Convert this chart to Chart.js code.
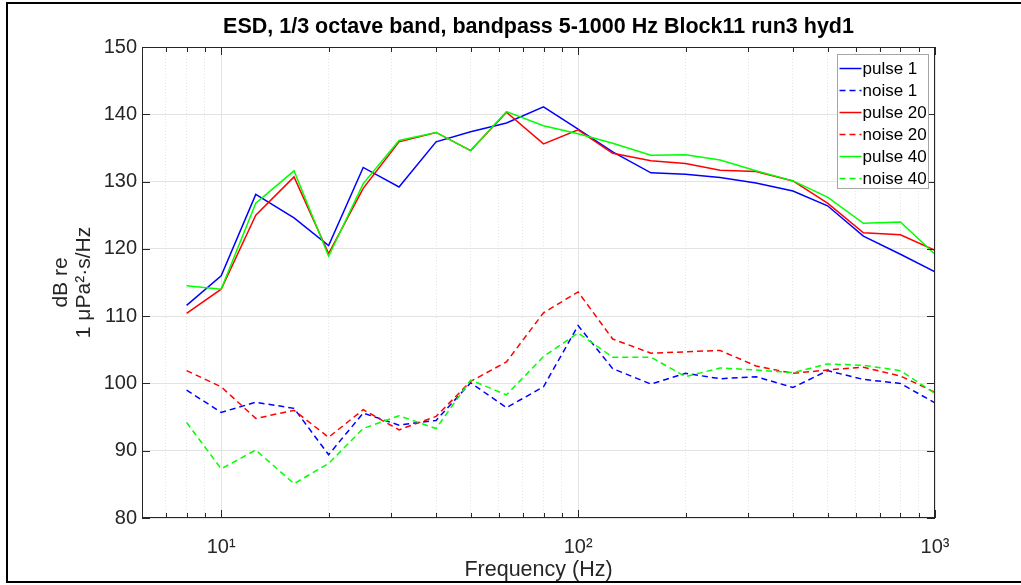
<!DOCTYPE html>
<html>
<head>
<meta charset="utf-8">
<title>ESD 1/3 octave band</title>
<script src="https://cdn.jsdelivr.net/npm/chart.js@4.4.1/dist/chart.umd.min.js"></script>
<style>
  html, body { margin: 0; padding: 0; background: #fff; }
  #wrap { width: 1021px; height: 585px; position: relative; }
</style>
</head>
<body>
<div id="wrap"><canvas id="chart" width="1021" height="585"></canvas></div>
<script>
// 1/3 octave band centre frequencies (Hz)
const freqs = [8, 10, 12.5, 16, 20, 25, 31.5, 40, 50, 63, 80, 100, 125, 160, 200, 250, 315, 400, 500, 630, 800, 1000];

// levels in dB re 1 uPa^2.s/Hz
const pulse1 = [111.6, 116.0, 128.1, 124.6, 120.5, 132.1, 129.2, 135.9, 137.4, 138.7, 141.1, 137.8, 134.4, 131.3, 131.1, 130.6, 129.8, 128.6, 126.4, 121.9, 119.2, 116.6];
const noise1 = [99.0, 95.7, 97.2, 96.3, 89.4, 95.6, 93.8, 94.5, 100.1, 96.4, 99.5, 108.6, 102.2, 99.9, 101.5, 100.7, 101.0, 99.4, 101.9, 100.6, 100.0, 97.1];
const pulse20 = [110.4, 114.0, 125.0, 130.7, 119.3, 129.0, 135.9, 137.3, 134.6, 140.3, 135.6, 137.7, 134.2, 133.1, 132.7, 131.7, 131.5, 130.1, 126.8, 122.4, 122.1, 119.8];
const noise20 = [101.9, 99.5, 94.8, 96.0, 92.0, 96.1, 93.1, 95.1, 100.3, 103.2, 110.5, 113.6, 106.6, 104.5, 104.7, 104.9, 102.6, 101.5, 102.0, 102.4, 101.1, 98.7];
const pulse40 = [114.5, 114.0, 126.8, 131.6, 118.9, 129.7, 136.1, 137.3, 134.6, 140.4, 138.3, 137.1, 135.7, 133.9, 134.0, 133.2, 131.6, 130.1, 127.7, 123.8, 124.0, 119.2];
const noise40 = [94.2, 87.3, 90.1, 85.1, 88.1, 93.3, 95.2, 93.3, 100.5, 98.3, 104.0, 107.5, 103.9, 103.9, 101.0, 102.3, 102.0, 101.6, 102.9, 102.7, 101.9, 98.5];

// x axis ticks (log decades + minor ticks), y axis ticks
const xTicks = [7, 8, 9, 10, 20, 30, 40, 50, 60, 70, 80, 90, 100, 200, 300, 400, 500, 600, 700, 800, 900, 1000];
const xMajorLabels = { 10: '10\u00B9', 100: '10\u00B2', 1000: '10\u00B3' };
const yTicks = [80, 90, 100, 110, 120, 130, 140, 150];

const FONT = '"Liberation Sans", Arial, Helvetica, sans-serif';
const TEXT = '#262626';

Chart.defaults.font.family = FONT;
Chart.defaults.color = TEXT;

const toPoints = (values) => freqs.map((f, i) => ({ x: f, y: values[i] }));

const makeSeries = (label, values, color, dashed, order) => ({
    label,
    data: toPoints(values),
    borderColor: color,
    backgroundColor: color,
    borderWidth: 1.5,
    borderDash: dashed ? [6, 4] : [],
    pointRadius: 0,
    tension: 0,
    fill: false,
    order,
});

// MATLAB draws later lines on top, so the last series gets the lowest order
const datasets = [
    makeSeries('pulse 1', pulse1, '#0000ff', false, 6),
    makeSeries('noise 1', noise1, '#0000ff', true, 5),
    makeSeries('pulse 20', pulse20, '#ff0000', false, 4),
    makeSeries('noise 20', noise20, '#ff0000', true, 3),
    makeSeries('pulse 40', pulse40, '#00ff00', false, 2),
    makeSeries('noise 40', noise40, '#00ff00', true, 1),
];

const isMajorX = (v) => xMajorLabels[v] !== undefined;

// axes box, inward tick marks, legend and the figure frame
const matlabAxes = {
    id: 'matlabAxes',
    afterDraw(chart) {
        const { ctx, chartArea: a, scales } = chart;
        const xs = scales.x;
        const ys = scales.y;

        ctx.save();

        // tick marks pointing into the axes
        ctx.lineWidth = 1;
        ctx.strokeStyle = '#262626';
        ctx.beginPath();
        xTicks.forEach((v) => {
            const px = Math.round(xs.getPixelForValue(v)) + 0.5;
            const len = isMajorX(v) ? 8 : 5;
            ctx.moveTo(px, a.bottom);
            ctx.lineTo(px, a.bottom - len);
            ctx.moveTo(px, a.top);
            ctx.lineTo(px, a.top + len);
        });
        yTicks.forEach((v) => {
            const py = Math.round(ys.getPixelForValue(v)) + 0.5;
            ctx.moveTo(a.left, py);
            ctx.lineTo(a.left + 8, py);
            ctx.moveTo(a.right, py);
            ctx.lineTo(a.right - 8, py);
        });
        ctx.stroke();

        // axes box
        const l = Math.round(a.left) + 0.5;
        const r = Math.round(a.right) - 0.5;
        const t = Math.round(a.top) + 0.5;
        const b = Math.round(a.bottom) - 0.5;
        ctx.strokeStyle = '#262626';
        ctx.strokeRect(l, t, r - l, b - t);

        // legend in the north-east corner
        const lw = 91;
        const lh = 134;
        const lx = Math.round(a.right) - 7 - lw + 0.5;
        const ly = Math.round(a.top) + 7 + 0.5;
        ctx.fillStyle = '#ffffff';
        ctx.fillRect(lx, ly, lw, lh);
        ctx.strokeStyle = '#a6a6a6';
        ctx.lineWidth = 1;
        ctx.strokeRect(lx, ly, lw, lh);

        ctx.font = '17px ' + FONT;
        ctx.textBaseline = 'middle';
        ctx.textAlign = 'left';
        chart.data.datasets.forEach((ds, i) => {
            const cy = ly + 14 + i * 22;
            ctx.beginPath();
            ctx.strokeStyle = ds.borderColor;
            ctx.lineWidth = 1.5;
            ctx.setLineDash(ds.borderDash);
            ctx.moveTo(lx + 2, cy);
            ctx.lineTo(lx + 24, cy);
            ctx.stroke();
            ctx.setLineDash([]);
            ctx.fillStyle = '#000000';
            ctx.fillText(ds.label, lx + 25, cy + 1);
        });

        // figure frame
        ctx.strokeStyle = '#000000';
        ctx.lineWidth = 2;
        ctx.beginPath();
        ctx.moveTo(1021, 3);
        ctx.lineTo(7, 3);
        ctx.lineTo(7, 582);
        ctx.lineTo(1021, 582);
        ctx.stroke();

        ctx.restore();
    },
};

new Chart(document.getElementById('chart'), {
    type: 'line',
    data: { datasets },
    options: {
        responsive: false,
        animation: false,
        devicePixelRatio: 1,
        layout: { padding: { left: 0, right: 86, top: 0, bottom: 0 } },
        plugins: {
            legend: { display: false },
            tooltip: { enabled: false },
            title: {
                display: true,
                fullSize: false,
                text: 'ESD, 1/3 octave band, bandpass 5-1000 Hz Block11 run3 hyd1',
                color: '#000000',
                font: { size: 21.5, weight: 'bold' },
                padding: { top: 14, bottom: 7.2 },
            },
        },
        scales: {
            x: {
                type: 'logarithmic',
                min: 6,
                max: 1000,
                afterBuildTicks: (scale) => {
                    scale.ticks = xTicks.map((v) => ({ value: v }));
                },
                afterFit: (scale) => {
                    scale.height = 67;
                },
                ticks: {
                    autoSkip: false,
                    maxRotation: 0,
                    minRotation: 0,
                    padding: 17,
                    color: TEXT,
                    font: { size: 20 },
                    callback: (value) => xMajorLabels[value] || '',
                },
                grid: {
                    drawTicks: false,
                    lineWidth: 1,
                    color: (ctx) => (ctx.tick && isMajorX(ctx.tick.value) ? '#e3e3e3' : '#e6e6e6'),
                },
                border: {
                    display: false,
                    dash: (ctx) => (ctx.tick && !isMajorX(ctx.tick.value) ? [1, 2] : []),
                },
                title: {
                    display: true,
                    text: 'Frequency (Hz)',
                    color: TEXT,
                    font: { size: 21.5 },
                    padding: { top: 0, bottom: 2 },
                },
            },
            y: {
                type: 'linear',
                min: 80,
                max: 150,
                afterBuildTicks: (scale) => {
                    scale.ticks = yTicks.map((v) => ({ value: v }));
                },
                afterFit: (scale) => {
                    scale.width = 142;
                },
                ticks: {
                    padding: 5,
                    color: TEXT,
                    font: { size: 20 },
                },
                grid: {
                    drawTicks: false,
                    color: '#e3e3e3',
                    lineWidth: 1,
                },
                border: { display: false },
                title: {
                    display: true,
                    text: ['dB re', '1 \u03BCPa\u00B2\u00B7s/Hz'],
                    color: TEXT,
                    font: { size: 21, lineHeight: 1.1 },
                    padding: { top: 50, bottom: 0 },
                },
            },
        },
    },
    plugins: [matlabAxes],
});
</script>
</body>
</html>
